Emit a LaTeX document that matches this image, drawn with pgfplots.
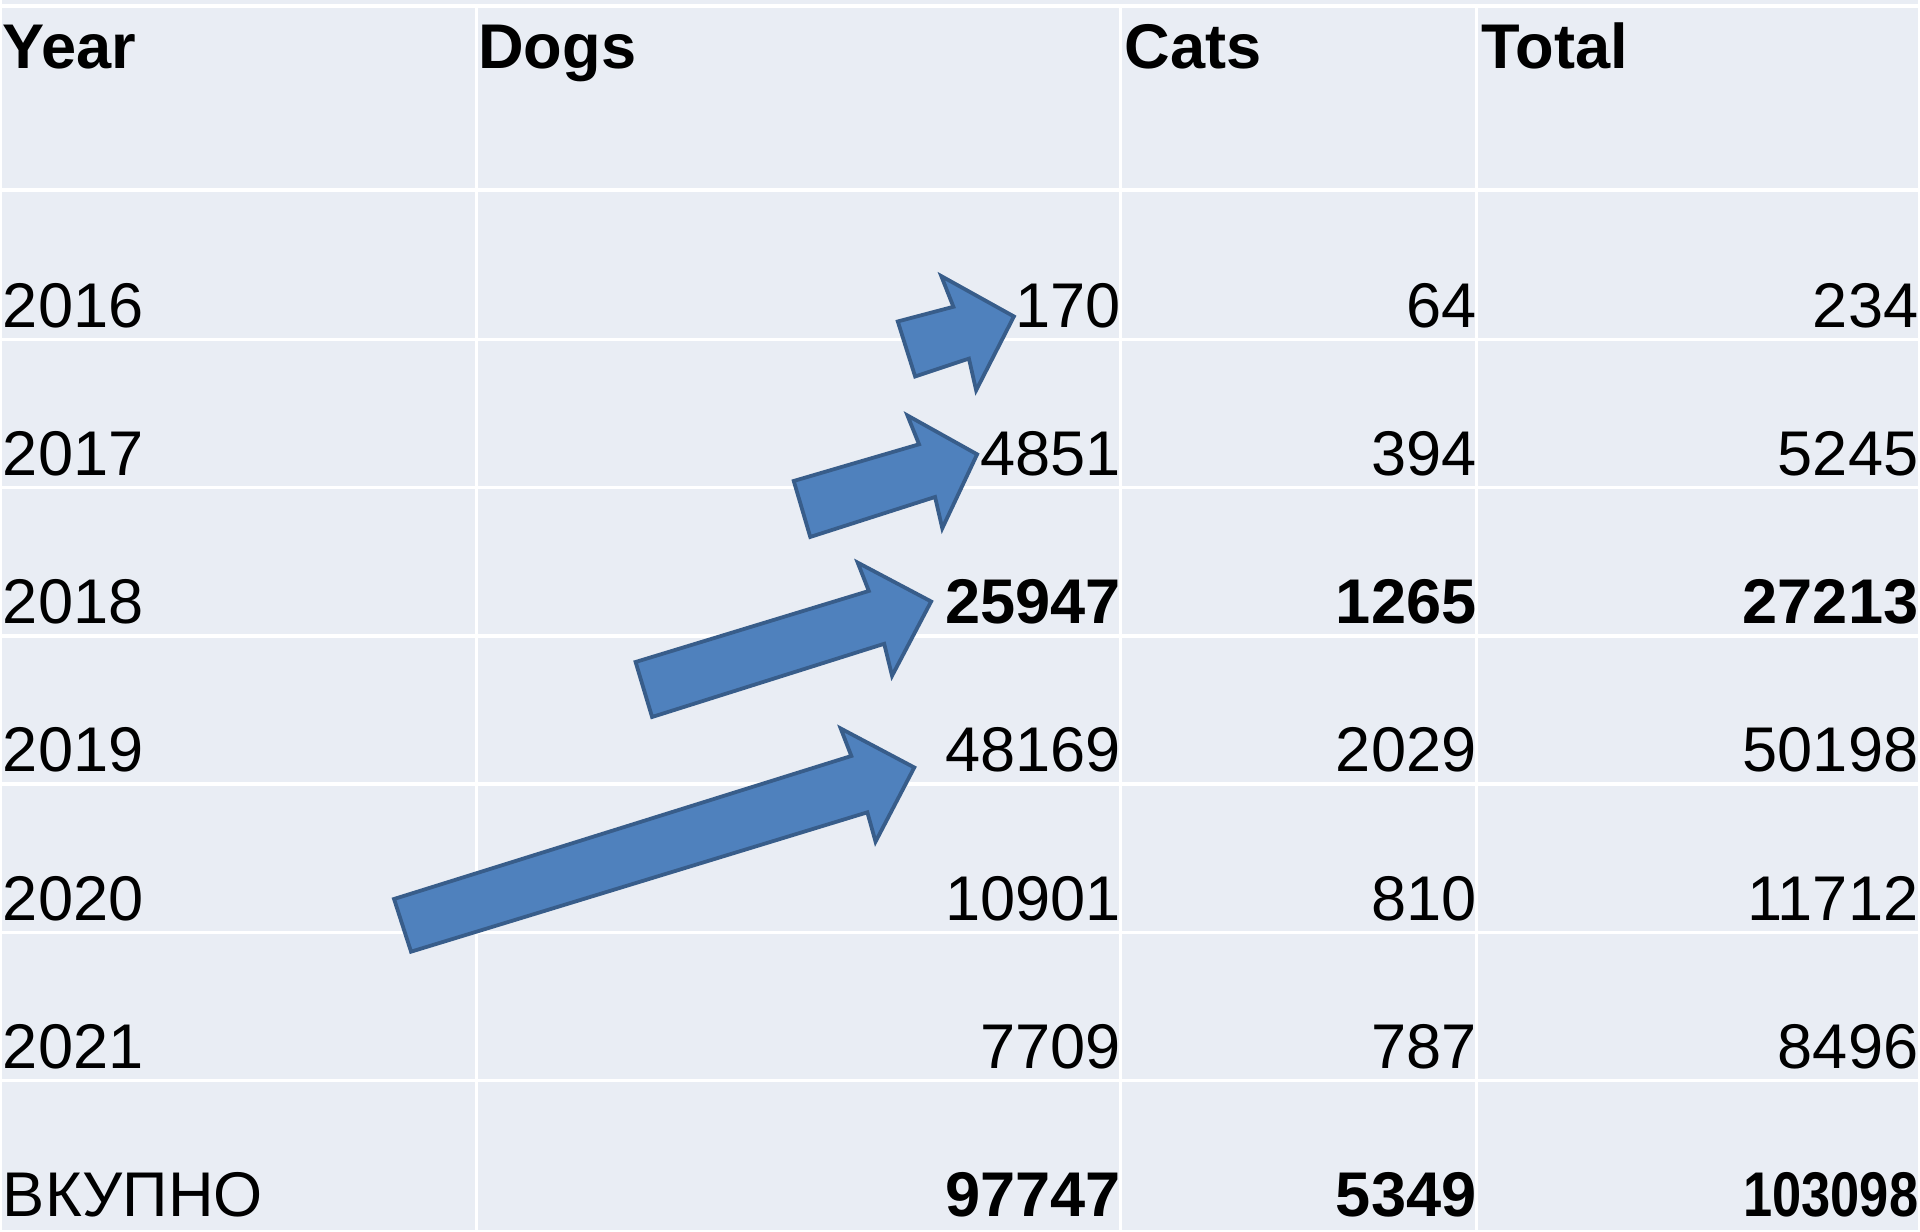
\documentclass[border=0pt]{standalone}
\usepackage{pgfplots}
\pgfplotsset{compat=1.18}
\usepackage{graphicx}
\usepackage{fontspec}
\setmainfont{Liberation Sans}
\definecolor{bgcol}{HTML}{E9EDF4}
\definecolor{arrfill}{HTML}{4F81BD}
\definecolor{arrdraw}{HTML}{385D8A}
\tikzset{
  L/.style={inner sep=0pt, outer sep=0pt, font=\fontsize{15}{18}\selectfont, anchor=base west},
  R/.style={inner sep=0pt, outer sep=0pt, font=\fontsize{15}{18}\selectfont, anchor=base east},
}
\begin{document}
\begin{tikzpicture}
\begin{axis}[
  width=16cm, height=10.265cm, scale only axis,
  xmin=0, xmax=1568, ymin=0, ymax=1006, y dir=reverse,
  hide axis, clip=false,
]
% background
\addplot[fill=bgcol, draw=none] coordinates {(0,0) (1568,0) (1568,1006) (0,1006)} -- cycle;
% grid lines
\foreach \yy in {5,155.5,277.7,399,520.2,641.5,762.8,884} {
  \edef\tmp{\noexpand\addplot[white, line width=0.8pt] coordinates {(0,\yy) (1568,\yy)};}\tmp
}
\foreach \xx in {388.5,915.5,1206.7} {
  \edef\tmp{\noexpand\addplot[white, line width=0.8pt] coordinates {(\xx,5) (\xx,1006)};}\tmp
}
% arrows
\addplot[fill=arrfill, draw=arrdraw, line width=0.9pt, line join=miter] coordinates {(733.1,263.0) (778.6,251.0) (768.7,225.9) (828.1,258.9) (797.2,319.3) (791.3,293.4) (747.3,308.0)} -- cycle;
\addplot[fill=arrfill, draw=arrdraw, line width=0.9pt, line join=miter] coordinates {(648.0,393.5) (750.5,363.5) (741.0,339.9) (798.0,371.7) (769.5,432.2) (763.6,406.6) (661.5,439.3)} -- cycle;
\addplot[fill=arrfill, draw=arrdraw, line width=0.9pt, line join=miter] coordinates {(518.6,541.6) (709.4,483.5) (700.3,460.3) (760.4,492.1) (728.4,552.9) (722.0,526.7) (532.1,586.6)} -- cycle;
\addplot[fill=arrfill, draw=arrdraw, line width=0.9pt, line join=miter] coordinates {(321.0,735.5) (695.1,618.5) (686.4,596.0) (746.6,627.9) (714.9,688.6) (708.2,664.6) (334.9,778.6)} -- cycle;
% header
\node[L] at (axis cs:1,56) {\bfseries Year};
\node[L] at (axis cs:390,56) {\bfseries Dogs};
\node[L] at (axis cs:918.5,56) {\bfseries Cats};
\node[L] at (axis cs:1211,56) {\bfseries Total};
% rows
\node[L] at (axis cs:1,268) {2016};
\node[R] at (axis cs:915.5,268) {170};
\node[R] at (axis cs:1206.5,268) {64};
\node[R] at (axis cs:1568,268) {234};
\node[L] at (axis cs:1,389) {2017};
\node[R] at (axis cs:915.5,389) {4851};
\node[R] at (axis cs:1206.5,389) {394};
\node[R] at (axis cs:1568,389) {5245};
\node[L] at (axis cs:1,510) {2018};
\node[R] at (axis cs:915.5,510) {\bfseries 25947};
\node[R] at (axis cs:1206.5,510) {\bfseries 1265};
\node[R] at (axis cs:1568,510) {\bfseries 27213};
\node[L] at (axis cs:1,631) {2019};
\node[R] at (axis cs:915.5,631) {48169};
\node[R] at (axis cs:1206.5,631) {2029};
\node[R] at (axis cs:1568,631) {50198};
\node[L] at (axis cs:1,753) {2020};
\node[R] at (axis cs:915.5,753) {10901};
\node[R] at (axis cs:1206.5,753) {810};
\node[R] at (axis cs:1568,753) {11712};
\node[L] at (axis cs:1,874) {2021};
\node[R] at (axis cs:915.5,874) {7709};
\node[R] at (axis cs:1206.5,874) {787};
\node[R] at (axis cs:1568,874) {8496};
\node[L] at (axis cs:1,995) {ВКУПНО};
\node[R] at (axis cs:915.5,995) {\bfseries 97747};
\node[R] at (axis cs:1206.5,995) {\bfseries 5349};
\node[R] at (axis cs:1568,995) {\scalebox{0.83}[1]{\bfseries 103098}};
\end{axis}
\end{tikzpicture}
\end{document}
